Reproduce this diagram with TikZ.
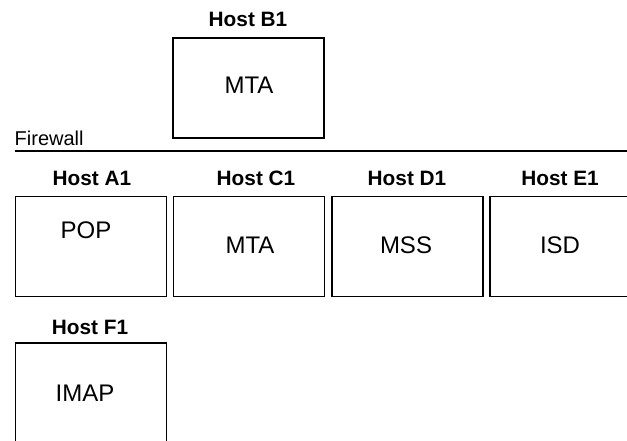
\documentclass[tikz,border=0pt]{standalone}
\usepackage{fontspec}
\setmainfont{Liberation Sans}

\tikzset{every picture/.style={line width=1.1pt}}
\tikzset{
  hostbox/.style={draw, minimum width=113.25pt, minimum height=75pt, inner sep=0pt},
  hostname/.style={font=\fontsize{15.6}{18}\selectfont\bfseries, inner sep=0.75pt, anchor=base},
  service/.style={font=\fontsize{18}{21}\selectfont, inner sep=0.75pt}
}

\begin{document}
\begin{tikzpicture}[x=0.75pt,y=0.75pt,yscale=-1,xscale=1]
\useasboundingbox (0,0) rectangle (627,440);

%Shape: Rectangle
\node [hostbox] (boxB1) at (248.5,88) {};
\node [hostbox] (boxA1) at (91.2,246.7) {};
\node [hostbox] (boxC1) at (249,246.7) {};
\node [hostbox] (boxD1) at (407.5,246.7) {};
\node [hostbox] (boxE1) at (565.5,246.7) {};
\node [hostbox] (boxF1) at (91.2,393) {};

%Straight Lines
\coordinate (fwL) at (15,151);
\coordinate (fwR) at (630,151);
\draw (fwL) -- (fwR);

% Text Node
\node [font=\fontsize{15}{18}\selectfont, inner sep=0.75pt, anchor=west] (firewall) at (13,138) {Firewall};

% Text Node
\node [hostname] (hostB1) at (248,26) {Host B1};
\node [hostname] (hostA1) at (92,185) {Host A1};
\node [hostname] (hostC1) at (256,185) {Host C1};
\node [hostname] (hostD1) at (407,185) {Host D1};
\node [hostname] (hostE1) at (560,185) {Host E1};
\node [hostname] (hostF1) at (90,334) {Host F1};

% Text Node
\node [service] (mtaB1) at (249,85) {MTA};
\node [service] (popA1) at (86,230) {POP};
\node [service] (mtaC1) at (250,245) {MTA};
\node [service] (mssD1) at (406,245) {MSS};
\node [service] (isdE1) at (560,245) {ISD};
\node [service] (imapF1) at (85,393) {IMAP};

\end{tikzpicture}
\end{document}
